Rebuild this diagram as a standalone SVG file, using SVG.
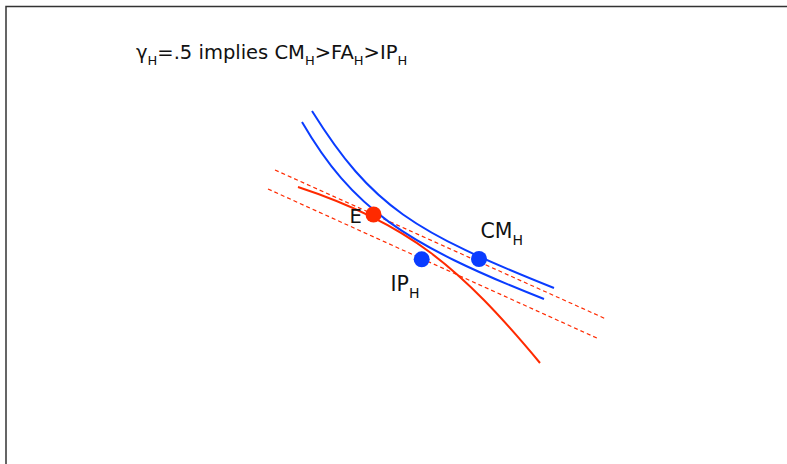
<svg xmlns="http://www.w3.org/2000/svg" width="787" height="464" viewBox="0 0 787 464">
<style>
.frame{fill:none;stroke:#333;stroke-width:1.5}
.blue{fill:none;stroke:#0a3cff;stroke-width:2}
.red{fill:none;stroke:#ff2a00;stroke-width:2}
.dash{fill:none;stroke:#ff2a00;stroke-width:1.2;stroke-dasharray:4 3}
.t{font-family:"DejaVu Sans",sans-serif;fill:#111}
</style>
<rect x="0" y="0" width="787" height="464" fill="#fff"/>
<path class="frame" d="M6,470 V6.5 H800"/>
<g id="title">
<text class="t" x="136" y="59" font-size="19.5">γ<tspan font-size="13" dy="6">H</tspan><tspan dy="-6">=.5 implies CM</tspan><tspan font-size="13" dy="6">H</tspan><tspan dy="-6">&gt;FA</tspan><tspan font-size="13" dy="6">H</tspan><tspan dy="-6">&gt;IP</tspan><tspan font-size="13" dy="6">H</tspan></text>
</g>
<g id="connectors">
<path class="dash" d="M275,170 L606,319"/>
<path class="dash" d="M268,189 L599,339"/>
<path class="blue" d="M312,111 C372,207 414,232 554,288"/>
<path class="blue" d="M302,122 C352,208 404,244 544,299"/>
<path class="red" d="M298,187 C408,223 460,267 540,363"/>
</g>
<g id="E">
<circle cx="373.5" cy="214.5" r="8" fill="#ff2a00"/>
<text class="t" x="349.5" y="222.5" font-size="19.5">E</text>
</g>
<g id="IPH">
<circle cx="421.7" cy="259.3" r="8" fill="#0a3cff"/>
<text class="t" x="390.5" y="291" font-size="20.5">IP<tspan font-size="14" dy="7">H</tspan></text>
</g>
<g id="CMH">
<circle cx="479" cy="259" r="8" fill="#0a3cff"/>
<text class="t" x="480.5" y="238" font-size="20.5">CM<tspan font-size="14" dy="7">H</tspan></text>
</g>
</svg>
